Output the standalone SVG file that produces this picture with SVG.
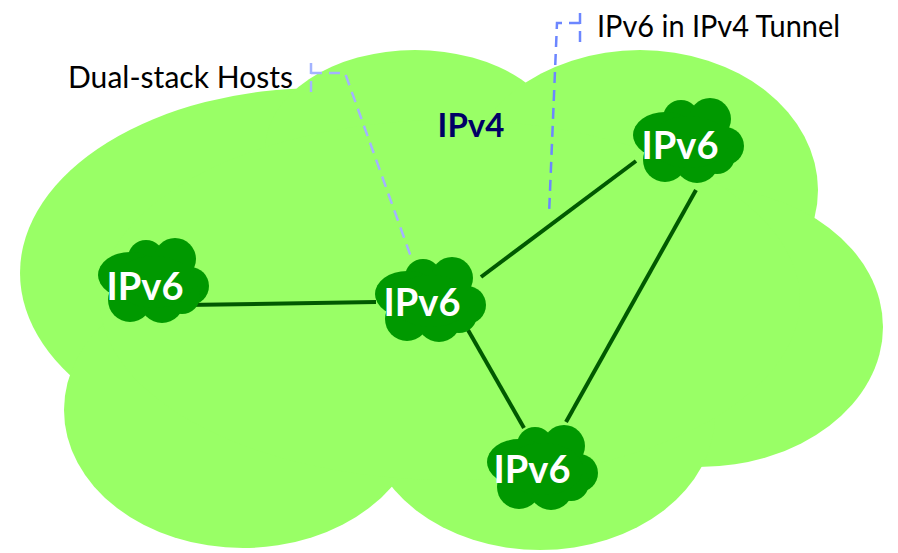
<svg xmlns="http://www.w3.org/2000/svg" xmlns:xlink="http://www.w3.org/1999/xlink" width="898" height="553" viewBox="0 0 898 553">
<style>
.big{fill:#99ff66}
.small{fill:#009900}
.lbl{font-family:Lato,"Open Sans","Liberation Sans",sans-serif;font-weight:bold;font-size:38px;fill:#ffffff;text-anchor:middle}
.note{font-family:Lato,"Open Sans","Liberation Sans",sans-serif;font-size:30px;fill:#000000}
.edge{stroke:#005a00;stroke-width:4;fill:none}
.dash1{stroke:#a3b3ff;stroke-width:2.5;fill:none;stroke-dasharray:11 7}
.dash2{stroke:#6c86ff;stroke-width:2.5;fill:none;stroke-dasharray:11 7}
</style>
<defs>
<g id="cl" class="small">
<circle cx="48" cy="20" r="18"/>
<circle cx="77" cy="21" r="21"/>
<ellipse cx="32" cy="37" rx="32" ry="23"/>
<circle cx="92" cy="48" r="19"/>
<circle cx="32" cy="62" r="22"/>
<circle cx="64" cy="63" r="22"/>
<circle cx="84" cy="58" r="18"/>
<ellipse cx="56" cy="44" rx="40" ry="26"/>
</g>
</defs>
<rect width="898" height="553" fill="#ffffff"/>
<g id="ipv4-cloud" class="big">
<ellipse cx="320" cy="273" rx="300" ry="185"/>
<ellipse cx="415" cy="150" rx="150" ry="100"/>
<ellipse cx="640" cy="190" rx="178" ry="140"/>
<ellipse cx="699" cy="327" rx="184" ry="140"/>
<ellipse cx="540" cy="415" rx="175" ry="135"/>
<ellipse cx="243" cy="410" rx="179" ry="138"/>
<ellipse cx="450" cy="300" rx="350" ry="180"/>
<text x="471" y="137" style="font-family:Lato,'Open Sans','Liberation Sans',sans-serif;font-weight:bold;font-size:33px;fill:#000066;text-anchor:middle">IPv4</text>
</g>
<g id="callouts">
<polyline class="dash1" points="311,63 311,97"/>
<polyline class="dash1" points="311,73 345,73 411,257"/>
<polyline class="dash2" points="580,13 580,45"/>
<polyline class="dash2" points="580,23 557,23 549,215"/>
<text class="note" x="68" y="88" textLength="225" lengthAdjust="spacingAndGlyphs">Dual-stack Hosts</text>
<text class="note" x="597" y="37" textLength="243" lengthAdjust="spacingAndGlyphs">IPv6 in IPv4 Tunnel</text>
</g>
<g id="connectors">
<line class="edge" x1="185" y1="305" x2="376" y2="302"/>
<line class="edge" x1="481" y1="277" x2="636" y2="161"/>
<line class="edge" x1="468" y1="330" x2="524" y2="428"/>
<line class="edge" x1="696" y1="190" x2="566" y2="422"/>
</g>
<g id="node-left">
<use xlink:href="#cl" x="98" y="238"/>
<text class="lbl" x="145" y="300">IPv6</text>
</g>
<g id="node-center">
<use xlink:href="#cl" x="375" y="257"/>
<text class="lbl" x="422" y="316">IPv6</text>
</g>
<g id="node-topright">
<use xlink:href="#cl" x="633" y="98"/>
<text class="lbl" x="680" y="159">IPv6</text>
</g>
<g id="node-bottom">
<use xlink:href="#cl" x="487" y="425"/>
<text class="lbl" x="532" y="483">IPv6</text>
</g>
</svg>
